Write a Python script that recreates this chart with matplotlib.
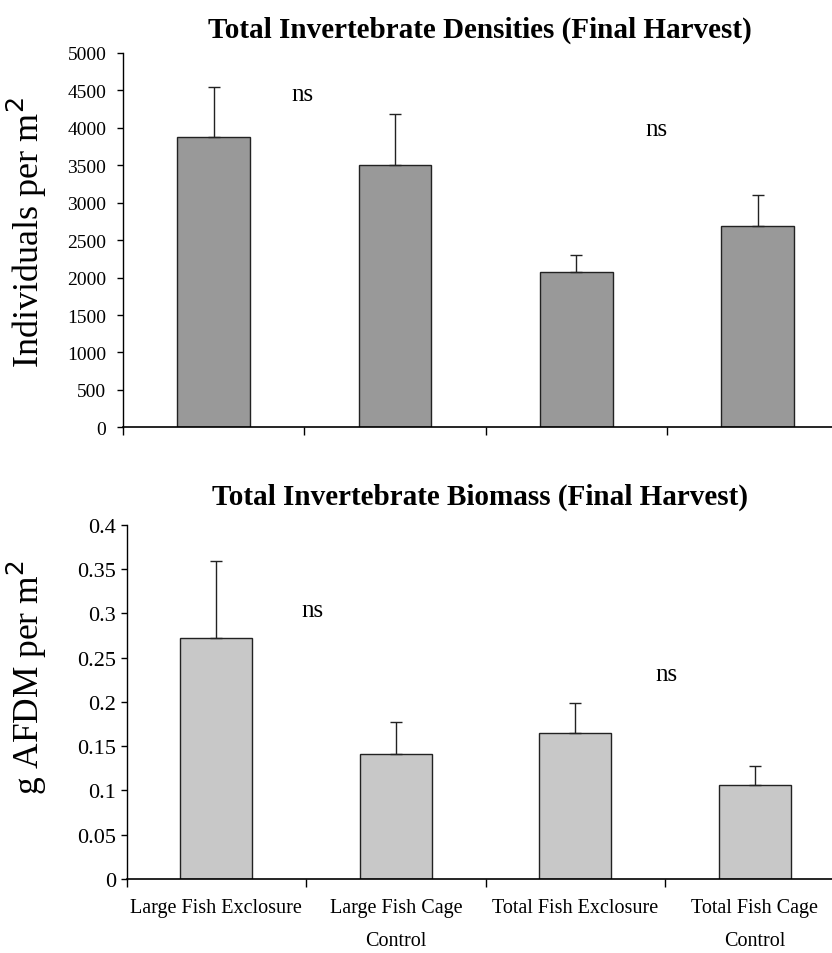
import matplotlib
matplotlib.use("Agg")
import matplotlib.pyplot as plt
import numpy as np

categories = ["Large Fish Exclosure", "Large Fish Cage\nControl",
              "Total Fish Exclosure", "Total Fish Cage\nControl"]
density = [3880, 3510, 2070, 2690]
density_err = [660, 670, 230, 410]
biomass = [0.272, 0.141, 0.165, 0.106]
biomass_err = [0.087, 0.036, 0.034, 0.022]
density_ticks = [0, 500, 1000, 1500, 2000, 2500, 3000, 3500, 4000, 4500, 5000]
biomass_ticks = [0, 0.05, 0.1, 0.15, 0.2, 0.25, 0.3, 0.35, 0.4]
biomass_ticklabels = ["0", "0.05", "0.1", "0.15", "0.2", "0.25", "0.3", "0.35", "0.4"]

plt.rcParams['font.family'] = ['Liberation Serif', 'DejaVu Serif']

fig = plt.figure(figsize=(8.32, 9.54), dpi=100)
ax1 = fig.add_axes([123/832, 1-428.3/954, 725.2/832, (428.3-54)/954])
ax2 = fig.add_axes([126.6/832, 1-880/954, 718/832, (880-525.7)/954])

x = np.arange(len(categories))

def style(ax):
    for s in ['top', 'right']:
        ax.spines[s].set_visible(False)
    ax.spines['left'].set_linewidth(1.0)
    ax.spines['bottom'].set_linewidth(1.2)
    ax.set_xlim(-0.5, 3.5)
    ax.set_xticks([-0.5, 0.5, 1.5, 2.5, 3.5])
    ax.set_xticklabels([])
    ax.tick_params(axis='x', direction='out', length=6, width=1)
    ax.tick_params(axis='y', direction='out', length=4, width=1)

ax1.bar(x, density, width=0.4, color='#999999', edgecolor='#222222', linewidth=1.0, zorder=2)
ax1.errorbar(x, density, yerr=[np.zeros(4), density_err], fmt='none', ecolor='#222222',
             elinewidth=1, capsize=4, capthick=1, zorder=3)
style(ax1)
ax1.set_ylim(0, 5000)
ax1.set_yticks(density_ticks)
ax1.set_yticklabels([str(t) for t in density_ticks], fontsize=14)
ax1.tick_params(axis='y', pad=8)
ax1.text(0.487, 4452, "ns", fontsize=18, ha='center', va='center')
ax1.text(2.44, 3985, "ns", fontsize=18, ha='center', va='center')

ax2.bar(x, biomass, width=0.4, color='#c8c8c8', edgecolor='#222222', linewidth=1.0, zorder=2)
ax2.errorbar(x, biomass, yerr=[np.zeros(4), biomass_err], fmt='none', ecolor='#222222',
             elinewidth=1, capsize=4, capthick=1, zorder=3)
style(ax2)
ax2.set_ylim(0, 0.4)
ax2.set_yticks(biomass_ticks)
ax2.set_yticklabels(biomass_ticklabels, fontsize=16)
ax2.set_xticks(x, minor=True)
ax2.set_xticklabels(categories, minor=True, fontsize=14.5, linespacing=1.95, va='top')
ax2.tick_params(axis='x', which='minor', length=0, pad=14)
ax2.text(0.536, 0.3036, "ns", fontsize=18, ha='center', va='center')
ax2.text(2.508, 0.231, "ns", fontsize=18, ha='center', va='center')

fig.text(480/832, 1-30/954, "Total Invertebrate Densities (Final Harvest)",
         fontsize=21, fontweight='bold', ha='center', va='center')
fig.text(480/832, 1-497/954, "Total Invertebrate Biomass (Final Harvest)",
         fontsize=21, fontweight='bold', ha='center', va='center')
fig.text(27/832, 1-232.5/954, "Individuals per m$^2$", fontsize=26, rotation=90,
         ha='center', va='center')
fig.text(27/832, 1-677.5/954, "g AFDM per m$^2$", fontsize=25.5, rotation=90,
         ha='center', va='center')

fig.savefig("out.png", dpi=100)
